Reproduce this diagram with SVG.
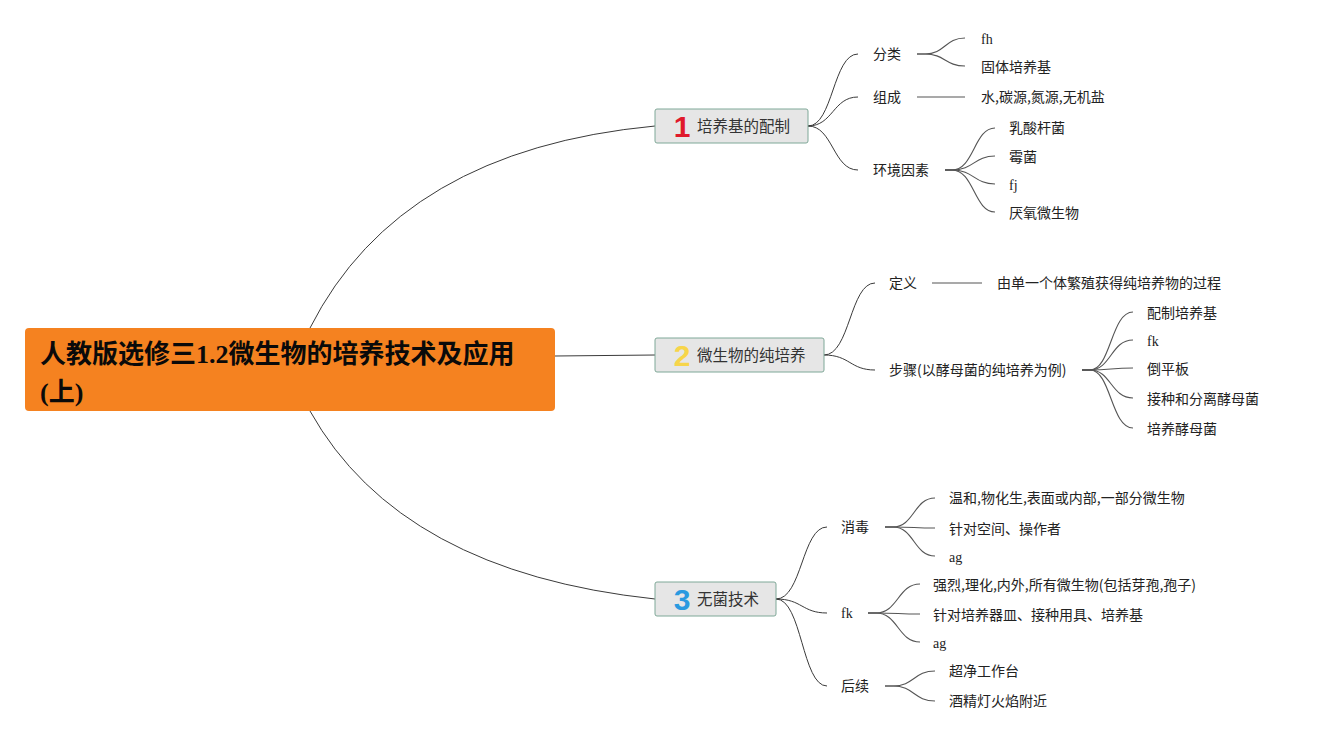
<svg xmlns="http://www.w3.org/2000/svg" width="1319" height="740" viewBox="0 0 1319 740">
<style>
.c{fill:none;stroke:#3a3a3a;stroke-width:1}
.s{fill:none;stroke:#555;stroke-width:1.1}
.box{fill:#e6e6e6;stroke:#7fa898;stroke-width:1}
.bt{font-family:"Noto Sans CJK SC",sans-serif;font-size:15.5px;fill:#333}
.t{font-family:"Noto Sans CJK SC",sans-serif;font-size:14px;fill:#222}
.l{font-family:"Liberation Serif",serif;font-size:14px;fill:#222}
.num{font-family:"Liberation Sans","Noto Sans",sans-serif;font-size:30px;font-weight:bold;text-anchor:middle}
.root{font-family:"Liberation Serif","Noto Sans CJK SC",serif;font-size:26px;font-weight:bold;fill:#0a0a0a}
</style>
<rect width="1319" height="740" fill="#ffffff"/>
<g id="connectors">
<path class="c" d="M310,328 Q400,150 655,126"/>
<path class="c" d="M555,356 L655,355"/>
<path class="c" d="M310,411 Q400,572 655,599"/>
<path class="c" d="M808,126 C833,126 833,54 858,54"/>
<path class="c" d="M808,126 C833,126 833,97 858,97"/>
<path class="c" d="M808,126 C833,126 833,170 858,170"/>
<path class="s" d="M917,54 L925,54 C945,54 945,38 965,38"/>
<path class="s" d="M917,54 L925,54 C945,54 945,66 965,66"/>
<path class="s" d="M917,97 L965,97"/>
<path class="s" d="M945,170 L952,170 C974,170 974,128 995,128"/>
<path class="s" d="M945,170 L952,170 C974,170 974,156 995,156"/>
<path class="s" d="M945,170 L952,170 C974,170 974,184 995,184"/>
<path class="s" d="M945,170 L952,170 C974,170 974,212 995,212"/>
<path class="c" d="M824,355 C850,355 850,283 875,283"/>
<path class="c" d="M824,355 C850,355 850,370 875,370"/>
<path class="s" d="M932,283 L982,283"/>
<path class="s" d="M1082,370 L1090,370 C1111,370 1111,312 1133,312"/>
<path class="s" d="M1082,370 L1090,370 C1111,370 1111,340 1133,340"/>
<path class="s" d="M1082,370 L1090,370 C1111,370 1111,368 1133,368"/>
<path class="s" d="M1082,370 L1090,370 C1111,370 1111,398 1133,398"/>
<path class="s" d="M1082,370 L1090,370 C1111,370 1111,428 1133,428"/>
<path class="c" d="M776,599 C802,599 802,527 827,527"/>
<path class="c" d="M776,599 C802,599 802,613 827,613"/>
<path class="c" d="M776,599 C802,599 802,686 827,686"/>
<path class="s" d="M885,527 L893,527 C914,527 914,498 935,498"/>
<path class="s" d="M885,527 L893,527 C914,527 914,528 935,528"/>
<path class="s" d="M885,527 L893,527 C914,527 914,556 935,556"/>
<path class="s" d="M868,613 L876,613 C898,613 898,584 920,584"/>
<path class="s" d="M868,613 L876,613 C898,613 898,614 920,614"/>
<path class="s" d="M868,613 L876,613 C898,613 898,642 920,642"/>
<path class="s" d="M885,686 L893,686 C914,686 914,671 935,671"/>
<path class="s" d="M885,686 L893,686 C914,686 914,701 935,701"/>
</g>
<g id="root">
<rect x="25" y="328" width="530" height="83" rx="4" fill="#f58220"/>
<text class="root" x="40" y="363">人教版选修三1.2微生物的培养技术及应用</text>
<text class="root" x="40" y="401">(上)</text>
</g>
<g id="n1">
<rect class="box" x="655" y="109" width="153" height="34" rx="2"/>
<text class="num" x="682" y="137" fill="#e0192b">1</text>
<text class="bt" x="697" y="132">培养基的配制</text>
</g>
<g id="n2">
<rect class="box" x="655" y="338" width="169" height="34" rx="2"/>
<text class="num" x="682" y="366" fill="#f7d54a">2</text>
<text class="bt" x="697" y="361">微生物的纯培养</text>
</g>
<g id="n3">
<rect class="box" x="655" y="582" width="121" height="34" rx="2"/>
<text class="num" x="682" y="610" fill="#2a9ae0">3</text>
<text class="bt" x="697" y="605">无菌技术</text>
</g>
<g id="n1a"><text class="t" x="873" y="59">分类</text></g>
<g id="n1a1"><text class="l" x="981" y="44">fh</text></g>
<g id="n1a2"><text class="t" x="981" y="72">固体培养基</text></g>
<g id="n1b"><text class="t" x="873" y="102">组成</text></g>
<g id="n1b1"><text class="t" x="981" y="102">水,碳源,氮源,无机盐</text></g>
<g id="n1c"><text class="t" x="873" y="175">环境因素</text></g>
<g id="n1c1"><text class="t" x="1009" y="133">乳酸杆菌</text></g>
<g id="n1c2"><text class="t" x="1009" y="162">霉菌</text></g>
<g id="n1c3"><text class="l" x="1009" y="190">fj</text></g>
<g id="n1c4"><text class="t" x="1009" y="218">厌氧微生物</text></g>
<g id="n2a"><text class="t" x="889" y="288">定义</text></g>
<g id="n2a1"><text class="t" x="997" y="288">由单一个体繁殖获得纯培养物的过程</text></g>
<g id="n2b"><text class="t" x="889" y="375">步骤(以酵母菌的纯培养为例)</text></g>
<g id="n2b1"><text class="t" x="1147" y="318">配制培养基</text></g>
<g id="n2b2"><text class="l" x="1147" y="346">fk</text></g>
<g id="n2b3"><text class="t" x="1147" y="374">倒平板</text></g>
<g id="n2b4"><text class="t" x="1147" y="404">接种和分离酵母菌</text></g>
<g id="n2b5"><text class="t" x="1147" y="434">培养酵母菌</text></g>
<g id="n3a"><text class="t" x="841" y="532">消毒</text></g>
<g id="n3a1"><text class="t" x="949" y="503">温和,物化生,表面或内部,一部分微生物</text></g>
<g id="n3a2"><text class="t" x="949" y="534">针对空间、操作者</text></g>
<g id="n3a3"><text class="l" x="949" y="562">ag</text></g>
<g id="n3b"><text class="l" x="841" y="618">fk</text></g>
<g id="n3b1"><text class="t" x="933" y="590">强烈,理化,内外,所有微生物(包括芽孢,孢子)</text></g>
<g id="n3b2"><text class="t" x="933" y="620">针对培养器皿、接种用具、培养基</text></g>
<g id="n3b3"><text class="l" x="933" y="648">ag</text></g>
<g id="n3c"><text class="t" x="841" y="691">后续</text></g>
<g id="n3c1"><text class="t" x="949" y="676">超净工作台</text></g>
<g id="n3c2"><text class="t" x="949" y="706">酒精灯火焰附近</text></g>
</svg>
